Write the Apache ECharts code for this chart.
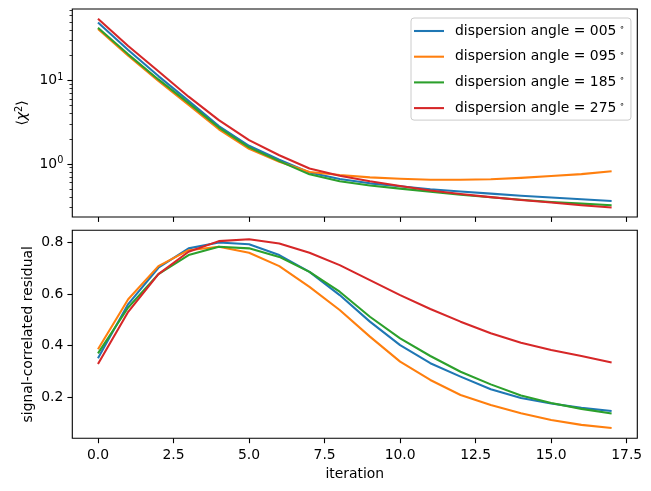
<!DOCTYPE html>
<html>
<head>
<meta charset="utf-8">
<script src="https://cdn.jsdelivr.net/npm/echarts@6/dist/echarts.min.js"></script>
<style>
html,body{margin:0;padding:0;background:#fff;}
#c{width:651px;height:491px;}
</style>
</head>
<body>
<div id="c"></div>
<script>
// ---------- data ----------
const iterations = [0,1,2,3,4,5,6,7,8,9,10,11,12,13,14,15,16,17];
const seriesNames = ['dispersion angle = 005', 'dispersion angle = 095', 'dispersion angle = 185', 'dispersion angle = 275'];
const colors = ['#1f77b4', '#ff7f0e', '#2ca02c', '#d62728'];

// <chi^2> (top, log scale)
const chi005 = [49.5, 23.2, 11.3, 5.7, 2.84, 1.65, 1.12, 0.79, 0.66, 0.585, 0.54, 0.497, 0.467, 0.44, 0.415, 0.395, 0.377, 0.36];
const chi095 = [41.5, 19.8, 9.9, 5.1, 2.6, 1.52, 1.06, 0.80, 0.735, 0.69, 0.665, 0.645, 0.645, 0.655, 0.68, 0.715, 0.755, 0.815];
const chi185 = [42.9, 20.6, 10.3, 5.35, 2.73, 1.58, 1.08, 0.75, 0.62, 0.55, 0.506, 0.465, 0.428, 0.398, 0.372, 0.35, 0.334, 0.32];
const chi275 = [55.0, 25.9, 12.9, 6.4, 3.35, 1.93, 1.27, 0.88, 0.72, 0.62, 0.545, 0.48, 0.435, 0.40, 0.37, 0.345, 0.32, 0.30];

// signal-correlated residual (bottom)
const res005 = [0.351, 0.561, 0.702, 0.777, 0.800, 0.793, 0.751, 0.686, 0.596, 0.493, 0.402, 0.332, 0.280, 0.231, 0.197, 0.176, 0.159, 0.147];
const res095 = [0.386, 0.580, 0.708, 0.770, 0.783, 0.760, 0.708, 0.628, 0.538, 0.435, 0.338, 0.267, 0.209, 0.170, 0.138, 0.112, 0.093, 0.081];
const res185 = [0.370, 0.548, 0.677, 0.751, 0.783, 0.777, 0.744, 0.686, 0.609, 0.512, 0.428, 0.360, 0.299, 0.250, 0.207, 0.178, 0.155, 0.137];
const res275 = [0.329, 0.531, 0.677, 0.764, 0.805, 0.812, 0.796, 0.760, 0.712, 0.654, 0.596, 0.542, 0.493, 0.448, 0.411, 0.383, 0.360, 0.335];

// ticks
const xTicks = [0, 2.5, 5, 7.5, 10, 12.5, 15, 17.5];
const logMajorTicks = [1, 10];
const logMinorTicks = [0.3, 0.4, 0.5, 0.6, 0.7, 0.8, 0.9, 2, 3, 4, 5, 6, 7, 8, 9, 20, 30, 40, 50, 60, 70];
const resTicks = [0.2, 0.4, 0.6, 0.8];

// axis ranges
const xRange = [-0.85, 17.85];
const chiRange = [0.231, 72];
const resRange = [0.041, 0.847];

// ---------- chart ----------
const FONT = 'DejaVu Sans';
const FS = 13.9;
const chart = echarts.init(document.getElementById('c'), null, {renderer: 'canvas'});

const chiData = [chi005, chi095, chi185, chi275];
const resData = [res005, res095, res185, res275];
const pairs = arr => iterations.map((x, i) => [x, arr[i]]);

const series = [];
chiData.forEach((arr, k) => series.push({
  name: seriesNames[k], type: 'line', xAxisIndex: 0, yAxisIndex: 0,
  data: pairs(arr), symbol: 'none', smooth: false,
  lineStyle: {width: 2.08, color: colors[k], join: 'round'}, itemStyle: {color: colors[k]},
  z: 2 + k
}));
resData.forEach((arr, k) => series.push({
  name: seriesNames[k], type: 'line', xAxisIndex: 1, yAxisIndex: 2,
  data: pairs(arr), symbol: 'none', smooth: false,
  lineStyle: {width: 2.08, color: colors[k], join: 'round'}, itemStyle: {color: colors[k]},
  z: 2 + k
}));

const tickStyle = {color: '#000', width: 1.1};
const baseX = (gi, showLabels) => ({
  type: 'value', gridIndex: gi, min: xRange[0], max: xRange[1], position: 'bottom',
  axisLine: {show: false, onZero: false},
  splitLine: {show: false},
  axisTick: {show: true, length: 4.9, lineStyle: tickStyle, customValues: xTicks},
  axisLabel: {show: showLabels, customValues: xTicks, margin: 10.5,
    color: '#000', fontFamily: FONT, fontSize: FS,
    formatter: v => v.toFixed(1)}
});

const option = {
  animation: false,
  backgroundColor: '#fff',
  grid: [
    {left: 72.3, top: 9, width: 565, height: 208, show: true, borderColor: '#000', borderWidth: 1.1, backgroundColor: 'transparent', outerBoundsMode: 'none'},
    {left: 72.3, top: 230.3, width: 565, height: 208, show: true, borderColor: '#000', borderWidth: 1.1, backgroundColor: 'transparent', outerBoundsMode: 'none'}
  ],
  xAxis: [
    baseX(0, false),
    Object.assign(baseX(1, true), {
      name: 'iteration', nameLocation: 'middle', nameGap: 29,
      nameTextStyle: {color: '#000', fontFamily: FONT, fontSize: FS}
    })
  ],
  yAxis: [
    {
      type: 'log', logBase: 10, gridIndex: 0, position: 'left',
      min: chiRange[0], max: chiRange[1],
      axisLine: {show: false, onZero: false}, splitLine: {show: false},
      axisTick: {show: true, length: 4.9, lineStyle: tickStyle, customValues: logMajorTicks},
      axisLabel: {
        customValues: logMajorTicks, margin: 9, color: '#000', fontFamily: FONT, fontSize: FS,
        formatter: v => '10{s|' + Math.round(Math.log10(v)) + '}',
        rich: {s: {fontSize: 9.7, fontFamily: FONT, color: '#000', verticalAlign: 'top', padding: [0, 0, 6, 0]}}
      },
      name: '⟨{i|χ}{s|2}⟩', nameLocation: 'middle', nameGap: 42, nameRotate: 90, nameMoveOverlap: false,
      nameTextStyle: {color: '#000', fontFamily: FONT, fontSize: FS,
        rich: {i: {fontStyle: 'italic', fontFamily: FONT, fontSize: FS, color: '#000'},
               s: {fontSize: 9.7, fontFamily: FONT, color: '#000', verticalAlign: 'top', padding: [0, 0, 6, 0]}}}
    },
    {
      type: 'log', logBase: 10, gridIndex: 0, position: 'left',
      min: chiRange[0], max: chiRange[1],
      axisLine: {show: false, onZero: false}, splitLine: {show: false},
      axisTick: {show: true, length: 2.8, lineStyle: {color: '#000', width: 0.8}, customValues: logMinorTicks},
      axisLabel: {show: false}
    },
    {
      type: 'value', gridIndex: 1, position: 'left',
      min: resRange[0], max: resRange[1],
      axisLine: {show: false, onZero: false}, splitLine: {show: false},
      axisTick: {show: true, length: 4.9, lineStyle: tickStyle, customValues: resTicks},
      axisLabel: {customValues: resTicks, margin: 9, color: '#000', fontFamily: FONT, fontSize: FS,
        formatter: v => v.toFixed(1)},
      name: 'signal-correlated residual', nameLocation: 'middle', nameGap: 37, nameMoveOverlap: false,
      nameTextStyle: {color: '#000', fontFamily: FONT, fontSize: FS}
    }
  ],
  legend: {
    show: true, orient: 'vertical', left: 411, top: 18,
    data: seriesNames,
    icon: 'path://M0,0 L30,0 L30,2.08 L0,2.08 Z',
    itemWidth: 30, itemHeight: 14, itemGap: 10.7,
    padding: [5, 6, 5, 3],
    backgroundColor: 'rgba(255,255,255,0.8)', borderColor: '#cccccc', borderWidth: 1, borderRadius: 3,
    formatter: name => name + '{s|∘}',
    textStyle: {color: '#000', fontFamily: FONT, fontSize: FS, padding: [0, 0, 0, 6],
      rich: {s: {fontSize: 9, fontFamily: FONT, color: '#000', verticalAlign: 'top', padding: [0, 0, 7, 3]}}},
    selectedMode: false
  },
  series: series
};
chart.setOption(option);
</script>
</body>
</html>
